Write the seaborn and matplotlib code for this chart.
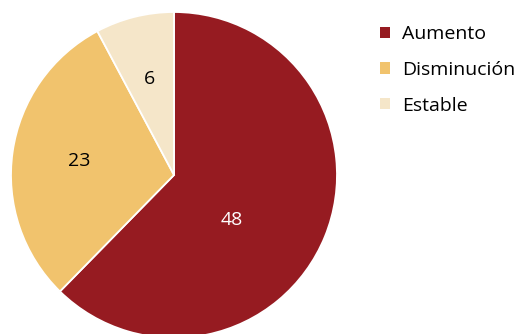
import numpy as np
import matplotlib
matplotlib.use("Agg")
import matplotlib.pyplot as plt
from matplotlib.patches import Patch
import seaborn as sns

categories = ["Aumento", "Disminución", "Estable"]
values = [48, 23, 6]
colors = ["#961B21", "#F1C36D", "#F5E6C9"]
label_colors = ["white", "black", "black"]

sns.set_theme(style="white")
plt.rcParams["font.family"] = ["Open Sans", "DejaVu Sans"]
plt.rcParams["text.color"] = "black"

W, H = 521, 334
fig = plt.figure(figsize=(W / 100, H / 100), dpi=100)
fig.patch.set_facecolor("white")

# pie axes placed in pixel units: centre (174, 175), radius 163
cx, cy, r = 174, 175, 163
ax = fig.add_axes([(cx - r) / W, (H - cy - r) / H, 2 * r / W, 2 * r / H])
wedges, _ = ax.pie(values, colors=colors, startangle=90, counterclock=False,
                   radius=1.0,
                   wedgeprops=dict(edgecolor="white", linewidth=1.3))
ax.set_xlim(-1, 1)
ax.set_ylim(-1, 1)
ax.set_aspect("equal")
ax.axis("off")

# value labels at each wedge's mid angle
label_dist = [0.45, 0.59, 0.61]
label_shift = [-16, 0, 0]
for w, v, d, s, c in zip(wedges, values, label_dist, label_shift, label_colors):
    ang = np.deg2rad((w.theta1 + w.theta2) / 2 + s)
    ax.text(d * np.cos(ang), d * np.sin(ang), str(v), ha="center", va="center",
            fontsize=14, color=c)

handles = [Patch(facecolor=c, edgecolor="none") for c in colors]
fig.legend(handles, categories, loc="upper left",
           bbox_to_anchor=(380 / W, 1 - 25 / H), frameon=False,
           fontsize=14, handlelength=0.5, handleheight=0.5,
           handletextpad=0.65, labelspacing=0.92, borderpad=0, borderaxespad=0,
           labelcolor="black")

fig.savefig("out.png", dpi=100, facecolor="white")
